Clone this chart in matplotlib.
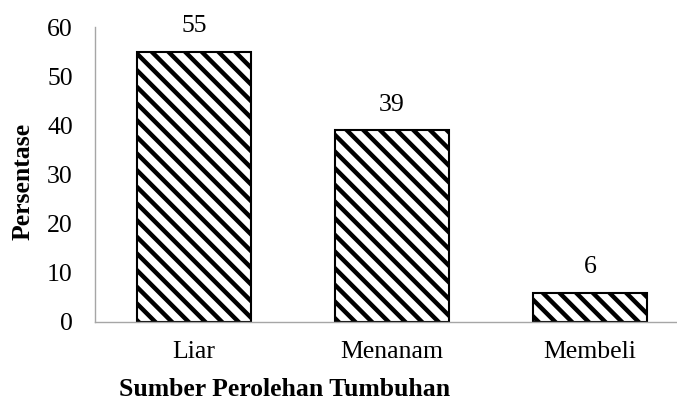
import matplotlib.pyplot as plt

sumber = ["Liar", "Menanam", "Membeli"]
persentase = [55, 39, 6]
y_ticks = [0, 10, 20, 30, 40, 50, 60]

plt.rcParams["font.family"] = ["Liberation Serif", "DejaVu Serif"]
plt.rcParams["hatch.linewidth"] = 3.2
plt.rcParams["hatch.color"] = "black"

fig = plt.figure(figsize=(6.77, 4.01), dpi=100)
ax = fig.add_axes([95 / 677, 1 - 322 / 401, 581 / 677, 295 / 401])

x = range(len(sumber))
bars = ax.bar(x, persentase, width=0.576, color="white", edgecolor="black",
              linewidth=1.5, hatch="\\\\")

# value labels above each bar
for xi, v in zip(x, persentase):
    ax.annotate(str(v), (xi, v), xytext=(0, 14), textcoords="offset points",
                ha="center", va="baseline", fontsize=18.5)

ax.set_xlim(-0.5, 2.434)
ax.set_ylim(0, 60)
ax.set_yticks(y_ticks)
ax.set_xticks(list(x))
ax.set_xticklabels(sumber)
ax.tick_params(axis="both", length=0, labelsize=18.5)
ax.tick_params(axis="y", pad=16)
ax.tick_params(axis="x", pad=14)

for side in ["top", "right"]:
    ax.spines[side].set_visible(False)
for side in ["left", "bottom"]:
    ax.spines[side].set_color("#a6a6a6")
    ax.spines[side].set_linewidth(1.0)

fig.text(23 / 677, 1 - 181 / 401, "Persentase", rotation=90, fontsize=18.5,
         fontweight="bold", ha="center", va="center")
fig.text(285 / 677, 1 - 396 / 401, "Sumber Perolehan Tumbuhan", fontsize=18.5,
         fontweight="bold", ha="center", va="baseline")

fig.savefig("out.png", dpi=100)
